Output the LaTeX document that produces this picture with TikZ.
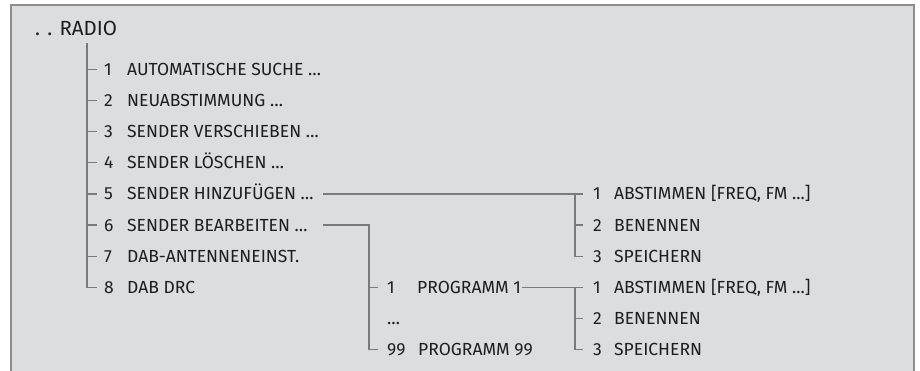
\documentclass[tikz,border=0pt]{standalone}
\usepackage{fontspec}
\setmainfont{Fira Sans}
\definecolor{bgc}{HTML}{DCDDDF}
\definecolor{brd}{HTML}{8E8E8E}
\definecolor{linec}{HTML}{7A7A7A}
\definecolor{textc}{HTML}{1E1E1E}
\begin{document}
\begin{tikzpicture}[x=1pt,y=-1pt,
  txt/.style={font=\fontsize{17.5}{20}\selectfont, text=textc, inner sep=0pt, anchor=west, text height=12pt, text depth=0pt},
  ttl/.style={font=\fontsize{20.5}{24}\selectfont, text=textc, inner sep=0pt, anchor=base west},
  ln/.style={draw=linec, line width=1.2pt},
  brdline/.style={draw=brd, line width=1.4pt}]
\useasboundingbox (0,0) rectangle (920,370);
\fill[bgc] (11,5) rectangle (914,372);
\draw[brdline] (11,372) -- (11,5) -- (914,5) -- (914,372);
% title
\node[ttl] (title) at (35,35) {. . RADIO};
% main list
\node[txt] (n1) at (104,69.5) {1};  \node[txt] (t1) at (127,69.5) {AUTOMATISCHE SUCHE …};
\node[txt] (n2) at (104,100.6) {2}; \node[txt] (t2) at (127,100.6) {NEUABSTIMMUNG …};
\node[txt] (n3) at (104,131.7) {3}; \node[txt] (t3) at (127,131.7) {SENDER VERSCHIEBEN …};
\node[txt] (n4) at (104,162.8) {4}; \node[txt] (t4) at (127,162.8) {SENDER LÖSCHEN …};
\node[txt] (n5) at (104,193.9) {5}; \node[txt] (t5) at (127,193.9) {SENDER HINZUFÜGEN …};
\node[txt] (n6) at (104,225.0) {6}; \node[txt] (t6) at (127,225.0) {SENDER BEARBEITEN …};
\node[txt] (n7) at (104,256.1) {7}; \node[txt] (t7) at (127,256.1) {DAB-ANTENNENEINST.};
\node[txt] (n8) at (104,287.2) {8}; \node[txt] (t8) at (127,287.2) {DAB DRC};
% programme list
\node[txt] (p1) at (387,287.2) {1};  \node[txt] (q1) at (417,287.2) {PROGRAMM 1};
\node[txt] (pd) at (387,318.3) {…};
\node[txt] (p99) at (387,349.4) {99}; \node[txt] (q99) at (418,349.4) {PROGRAMM 99};
% submenu of 5
\node[txt] (a1) at (593,193.9) {1}; \node[txt] (b1) at (614,193.9) {ABSTIMMEN [FREQ, FM ...]};
\node[txt] (a2) at (593,225.0) {2}; \node[txt] (b2) at (614,225.0) {BENENNEN};
\node[txt] (a3) at (593,256.1) {3}; \node[txt] (b3) at (614,256.1) {SPEICHERN};
% submenu of programme 1
\node[txt] (c1) at (593,287.2) {1}; \node[txt] (d1) at (614,287.2) {ABSTIMMEN [FREQ, FM ...]};
\node[txt] (c2) at (593,318.3) {2}; \node[txt] (d2) at (614,318.3) {BENENNEN};
\node[txt] (c3) at (593,349.4) {3}; \node[txt] (d3) at (614,349.4) {SPEICHERN};
% coordinates
\coordinate (vtop) at (87,43);
\coordinate (s5) at (323,193.9);
\coordinate (s6) at (323,225.0);
\coordinate (j6) at (369,225.0);
\coordinate (j5) at (575,193.9);
\coordinate (j8) at (575,287.2);
% main tree
\foreach \k in {1,...,7} \draw[ln] (vtop |- n\k.west) -- ([xshift=-7pt]n\k.west);
\draw[ln] (vtop) |- ([xshift=-7pt]n8.west);
% branch 5
\draw[ln] (s5) -- ([xshift=-10pt]a1.west);
\draw[ln] (j5) |- ([xshift=-10pt]a3.west);
\draw[ln] (j5 |- a2.west) -- ([xshift=-10pt]a2.west);
% branch 6
\draw[ln] (s6) -- (j6) |- ([xshift=-9pt]p99.west);
\draw[ln] (j6 |- p1.west) -- ([xshift=-9pt]p1.west);
% branch programme 1
\draw[ln] ([xshift=1pt]q1.east) -- ([xshift=-10pt]c1.west);
\draw[ln] (j8) |- ([xshift=-10pt]c3.west);
\draw[ln] (j8 |- c2.west) -- ([xshift=-10pt]c2.west);
\end{tikzpicture}
\end{document}
